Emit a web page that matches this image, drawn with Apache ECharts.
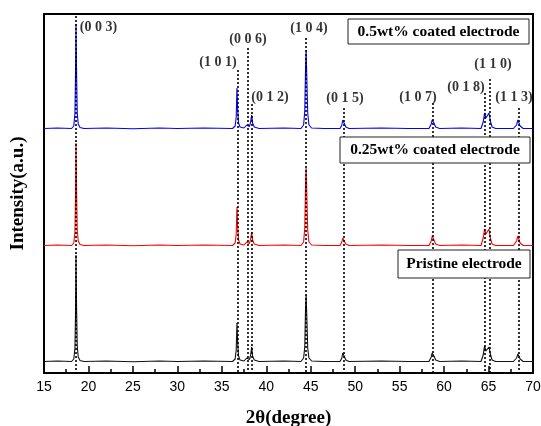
<!DOCTYPE html>
<html><head><meta charset="utf-8">
<script src="https://cdn.jsdelivr.net/npm/echarts@6/dist/echarts.min.js"></script>
<style>html,body{margin:0;padding:0;background:#fff}#c{width:541px;height:426px}</style>
</head><body><div id="c"></div>
<script>
// 2θ (degree) / intensity pairs (above each trace's own baseline)
const pristine = [[15,0.5],[16.5,1],[18.1,0.5],[18.35,3],[18.48,14],[18.54,45],[18.6,107],[18.67,50],[18.74,16],[18.85,5],[19.05,1.5],[19.5,0.5],[22,1],[25,0.3],[28,1],[30,0.5],[33,1],[36.2,0.5],[36.5,3],[36.62,12],[36.7,39],[36.78,20],[36.88,6],[37.05,2],[37.5,1],[37.8,4],[37.92,5],[38.1,2.5],[38.22,6],[38.36,15],[38.46,6],[38.65,2],[39.2,0.5],[42,1],[43.9,0.5],[44.2,4],[44.33,15],[44.42,55],[44.48,67],[44.56,45],[44.66,14],[44.8,4],[45.1,1],[46.5,0.5],[48.3,0.5],[48.5,4],[48.6,9],[48.68,11],[48.78,7],[48.95,2],[49.3,0.5],[53,1],[56,0.5],[58.3,0.5],[58.55,5],[58.66,9],[58.74,10],[58.86,6],[59.05,2],[59.5,0.5],[62,1],[64.15,0.5],[64.4,7],[64.55,16],[64.7,11],[64.85,10],[65.05,15],[65.2,8],[65.4,2],[65.8,0.5],[67.8,0.5],[68.15,4],[68.3,8],[68.4,7],[68.55,3],[68.9,0.5],[70,0.5]];
const coated025 = [[15,0.5],[16.5,1],[18.1,0.5],[18.35,3],[18.48,14],[18.54,45],[18.6,103],[18.67,50],[18.74,16],[18.85,5],[19.05,1.5],[19.5,0.5],[22,1],[25,0.3],[28,1],[30,0.5],[33,1],[36.2,0.5],[36.5,3],[36.62,12],[36.7,39],[36.78,20],[36.88,6],[37.05,2],[37.5,1],[37.8,4],[37.92,5],[38.1,2.5],[38.22,6],[38.36,14],[38.46,6],[38.65,2],[39.2,0.5],[42,1],[43.9,0.5],[44.2,4],[44.33,18],[44.42,62],[44.48,78],[44.56,52],[44.66,16],[44.8,4],[45.1,1],[46.5,0.5],[48.3,0.5],[48.5,4],[48.6,8],[48.68,10],[48.78,6],[48.95,2],[49.3,0.5],[53,1],[56,0.5],[58.3,0.5],[58.55,5],[58.66,10],[58.74,11],[58.86,6],[59.05,2],[59.5,0.5],[62,1],[64.15,0.5],[64.4,8],[64.55,17],[64.7,12],[64.85,11],[65.05,17],[65.2,8],[65.4,2],[65.8,0.5],[67.8,0.5],[68.15,5],[68.3,10],[68.4,8],[68.55,3],[68.9,0.5],[70,0.5]];
const coated05 = [[15,0.5],[16.5,1],[18.1,0.5],[18.35,3],[18.48,16],[18.54,50],[18.6,105],[18.67,52],[18.74,16],[18.85,5],[19.05,1.5],[19.5,0.5],[22,1],[25,0.3],[28,1],[30,0.5],[33,1],[36.2,0.5],[36.5,3],[36.62,12],[36.7,41],[36.78,20],[36.88,6],[37.05,2],[37.5,1],[37.8,4],[37.92,5],[38.1,2.5],[38.22,6],[38.36,14],[38.46,6],[38.65,2],[39.2,0.5],[42,1],[43.9,0.5],[44.2,4],[44.33,18],[44.42,62],[44.48,79],[44.56,52],[44.66,16],[44.8,4],[45.1,1],[46.5,0.5],[48.3,0.5],[48.5,4],[48.6,9],[48.68,11],[48.78,7],[48.95,2],[49.3,0.5],[53,1],[56,0.5],[58.3,0.5],[58.55,5],[58.66,9],[58.74,10],[58.86,6],[59.05,2],[59.5,0.5],[62,1],[64.15,0.5],[64.4,7],[64.55,16],[64.7,11],[64.85,10],[65.05,16],[65.2,8],[65.4,2],[65.8,0.5],[67.8,0.5],[68.15,4],[68.3,9],[68.4,7],[68.55,3],[68.9,0.5],[70,0.5]];
const seriesNames = ['Pristine electrode','0.25wt% coated electrode','0.5wt% coated electrode'];
const stackOffsets = [11, 127, 244];
// reflections (hkl), 2θ positions, and the top of each dotted guide line
const hkl = ['(0 0 3)','(1 0 1)','(0 0 6)','(0 1 2)','(1 0 4)','(0 1 5)','(1 0 7)','(0 1 8)','(1 1 0)','(1 1 3)'];
const peak2theta = [18.62,36.74,37.9,38.36,44.47,48.67,58.72,64.6,65.1,68.36];
const guideTop = [357,303,325,269,335,265,270,280,294,265];
const labelPos = [[21.13,346],[34.57,311],[37.94,334],[40.42,276],[44.8,345],[48.85,275],[57.06,276],[62.46,286],[65.5,309],[67.86,276]];
const xTicks = {min:15, max:70, interval:5};

const traces = [pristine, coated025, coated05];
const colors = ['#111111','#ff0000','#0000ff'];
const chart = echarts.init(document.getElementById('c'), null, {renderer:'canvas'});
const series = traces.map((t,i)=>({
  type:'line', name:seriesNames[i], showSymbol:false, symbol:'none', silent:true,
  data:t.map(p=>[p[0], p[1]+stackOffsets[i]]),
  lineStyle:{color:colors[i], width:1.1}, z:3
}));
series.push({
  type:'line', data:[], silent:true, z:2,
  markLine:{symbol:['none','none'], silent:true, label:{show:false},
    lineStyle:{color:'#000', type:[2,2], width:1.6},
    data: peak2theta.map((x,i)=>[{coord:[x,guideTop[i]]},{coord:[x,0]}])}
});
series.push({
  type:'scatter', symbolSize:0, silent:true, z:5,
  data: labelPos.map((p,i)=>({value:p, name:hkl[i]})),
  label:{show:true, position:'inside', formatter:p=>p.name, color:'#000',
    fontFamily:'Liberation Serif', fontWeight:'bold', fontSize:14}
});
const box = (x,y,w,h,text)=>({type:'group', children:[
  {type:'rect', z:100, shape:{x:x,y:y,width:w,height:h}, style:{fill:'#fff', stroke:'#222', lineWidth:1}},
  {type:'text', z:101, x:x+w/2, y:y+h/2, style:{text:text, fill:'#000', font:'bold 15.5px "Liberation Serif"', align:'center', verticalAlign:'middle'}}
]});
chart.setOption({
  animation:false,
  backgroundColor:'#fff',
  grid:{left:44, right:8, top:14, bottom:53, show:true, borderColor:'#000', borderWidth:2, outerBoundsMode:'none', containLabel:false},
  xAxis:{type:'value', min:xTicks.min, max:xTicks.max, interval:xTicks.interval,
    name:'2θ(degree)', nameLocation:'middle', nameGap:36,
    nameTextStyle:{fontFamily:'Liberation Serif', fontWeight:'bold', fontSize:19, color:'#000'},
    axisLine:{show:true, lineStyle:{color:'#000', width:2}},
    axisTick:{show:true, inside:true, length:7, lineStyle:{color:'#000', width:1.5}},
    minorTick:{show:true, splitNumber:2, length:4, lineStyle:{color:'#000', width:1.5}},
    axisLabel:{color:'#000', fontFamily:'Liberation Sans', fontSize:14, margin:7},
    splitLine:{show:false}},
  yAxis:{type:'value', min:0, max:359, name:'Intensity(a.u.)', nameLocation:'middle', nameGap:16,
    nameTextStyle:{fontFamily:'Liberation Serif', fontWeight:'bold', fontSize:19, color:'#000'},
    axisLine:{show:true, lineStyle:{color:'#000', width:2}},
    axisTick:{show:false}, axisLabel:{show:false}, splitLine:{show:false}},
  graphic:[
    box(348,19,181,25,seriesNames[2]),
    box(340,137,190,26,seriesNames[1]),
    box(398,250,132,28,seriesNames[0])
  ],
  series:series
});
</script></body></html>
